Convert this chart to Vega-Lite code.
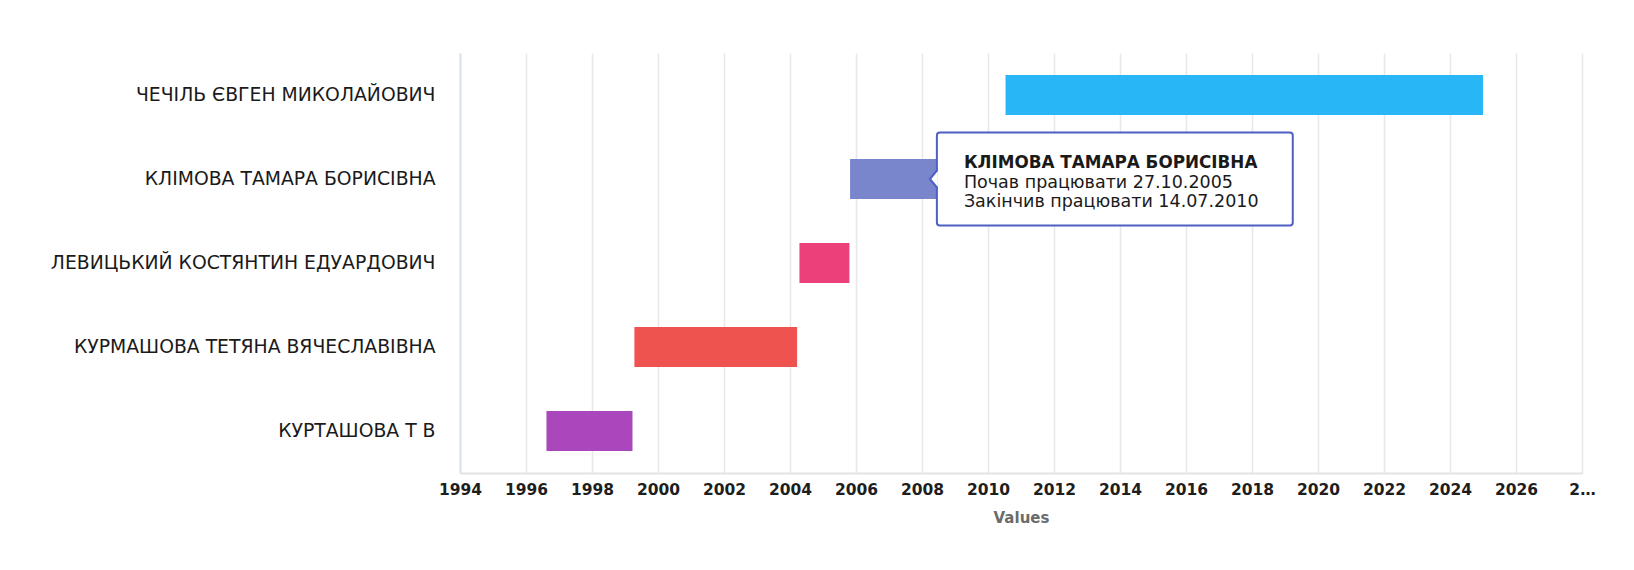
{
  "$schema": "https://vega.github.io/schema/vega-lite/v6.json",
  "width": 1122,
  "height": 420,
  "autosize": {"type": "none"},
  "padding": {"left": 460, "top": 53, "right": 52, "bottom": 97},
  "background": "white",
  "config": {"view": {"stroke": null}, "font": "DejaVu Sans"},
  "layer": [
    {
      "data": {
        "values": [
          {"name": "ЧЕЧІЛЬ ЄВГЕН МИКОЛАЙОВИЧ", "start": "2010-07-14", "end": "2025-01-01"},
          {"name": "КЛІМОВА ТАМАРА БОРИСІВНА", "start": "2005-10-27", "end": "2010-07-14"},
          {"name": "ЛЕВИЦЬКИЙ КОСТЯНТИН ЕДУАРДОВИЧ", "start": "2004-04-15", "end": "2005-10-20"},
          {"name": "КУРМАШОВА ТЕТЯНА ВЯЧЕСЛАВІВНА", "start": "1999-04-15", "end": "2004-03-20"},
          {"name": "КУРТАШОВА Т В", "start": "1996-08-15", "end": "1999-03-25"}
        ]
      },
      "mark": {"type": "bar", "height": 40},
      "encoding": {
        "y": {
          "field": "name",
          "type": "nominal",
          "scale": {
            "domain": ["ЧЕЧІЛЬ ЄВГЕН МИКОЛАЙОВИЧ", "КЛІМОВА ТАМАРА БОРИСІВНА", "ЛЕВИЦЬКИЙ КОСТЯНТИН ЕДУАРДОВИЧ", "КУРМАШОВА ТЕТЯНА ВЯЧЕСЛАВІВНА", "КУРТАШОВА Т В"],
            "paddingInner": 0,
            "paddingOuter": 0
          },
          "axis": {
            "title": null,
            "domainColor": "#dbe1f1",
            "domainWidth": 2,
            "ticks": false,
            "grid": false,
            "labelPadding": 25,
            "labelFont": "DejaVu Sans",
            "labelFontSize": 18.8,
            "labelColor": "#1a1a1a",
            "labelLimit": 500
          }
        },
        "x": {
          "field": "start",
          "type": "temporal",
          "scale": {"type": "utc", "domain": [{"year": 1994, "utc": true}, {"year": 2028, "utc": true}]},
          "axis": {
            "title": "Values",
            "grid": true,
            "gridColor": "#e8e8e8",
            "gridWidth": 1.5,
            "domainColor": "#e3e3e3",
            "domainWidth": 2,
            "ticks": false,
            "tickCount": {"interval": "year", "step": 2},
            "labelExpr": "utcyear(datum.value) == 2028 ? '2…' : utcFormat(datum.value, '%Y')",
            "labelFont": "DejaVu Sans",
            "labelFontWeight": "bold",
            "labelFontSize": 15.5,
            "labelColor": "#1e1e1e",
            "labelPadding": 9,
            "labelFlush": false,
            "labelOverlap": false,
            "titleFont": "DejaVu Sans",
            "titleFontSize": 15,
            "titleFontWeight": "bold",
            "titleColor": "#6b6b6b",
            "titlePadding": 13
          }
        },
        "x2": {"field": "end"},
        "color": {
          "field": "name",
          "type": "nominal",
          "scale": {
            "domain": ["ЧЕЧІЛЬ ЄВГЕН МИКОЛАЙОВИЧ", "КЛІМОВА ТАМАРА БОРИСІВНА", "ЛЕВИЦЬКИЙ КОСТЯНТИН ЕДУАРДОВИЧ", "КУРМАШОВА ТЕТЯНА ВЯЧЕСЛАВІВНА", "КУРТАШОВА Т В"],
            "range": ["#29b6f6", "#7986cb", "#ec407a", "#ef5350", "#ab47bc"]
          },
          "legend": null
        }
      }
    },
    {
      "data": {"values": [{"name": "КЛІМОВА ТАМАРА БОРИСІВНА", "title": "КЛІМОВА ТАМАРА БОРИСІВНА", "info": "Почав працювати 27.10.2005\nЗакінчив працювати 14.07.2010"}]},
      "layer": [
        {
          "mark": {"type": "bar", "height": 93, "fill": "white", "stroke": "#4f5fc4", "strokeWidth": 2, "cornerRadius": 3},
          "encoding": {
            "y": {"field": "name", "type": "nominal"},
            "x": {"datum": {"year": 2008, "month": 6, "date": 14, "utc": true}, "type": "temporal"},
            "x2": {"datum": {"year": 2019, "month": 3, "date": 28, "utc": true}}
          }
        },
        {
          "mark": {"type": "point", "shape": "M 0.12 -1 L 0 -1 L -0.82 0 L 0 1 L 0.12 1", "size": 289, "filled": true, "fill": "white", "stroke": "#4f5fc4", "strokeWidth": 2, "opacity": 1, "strokeJoin": "miter"},
          "encoding": {
            "y": {"field": "name", "type": "nominal"},
            "x": {"datum": {"year": 2008, "month": 6, "date": 14, "utc": true}, "type": "temporal"}
          }
        },
        {
          "mark": {"type": "text", "align": "left", "baseline": "alphabetic", "dx": 27, "dy": -10.6, "font": "DejaVu Sans", "fontWeight": "bold", "fontSize": 16.8, "color": "#1a1a1a"},
          "encoding": {
            "y": {"field": "name", "type": "nominal"},
            "x": {"datum": {"year": 2008, "month": 6, "date": 14, "utc": true}, "type": "temporal"},
            "text": {"field": "title"}
          }
        },
        {
          "mark": {"type": "text", "align": "left", "baseline": "alphabetic", "dx": 27, "dy": 9, "font": "DejaVu Sans", "fontSize": 17.5, "lineBreak": "\n", "lineHeight": 18.8, "color": "#1a1a1a"},
          "encoding": {
            "y": {"field": "name", "type": "nominal"},
            "x": {"datum": {"year": 2008, "month": 6, "date": 14, "utc": true}, "type": "temporal"},
            "text": {"field": "info"}
          }
        }
      ]
    }
  ]
}
